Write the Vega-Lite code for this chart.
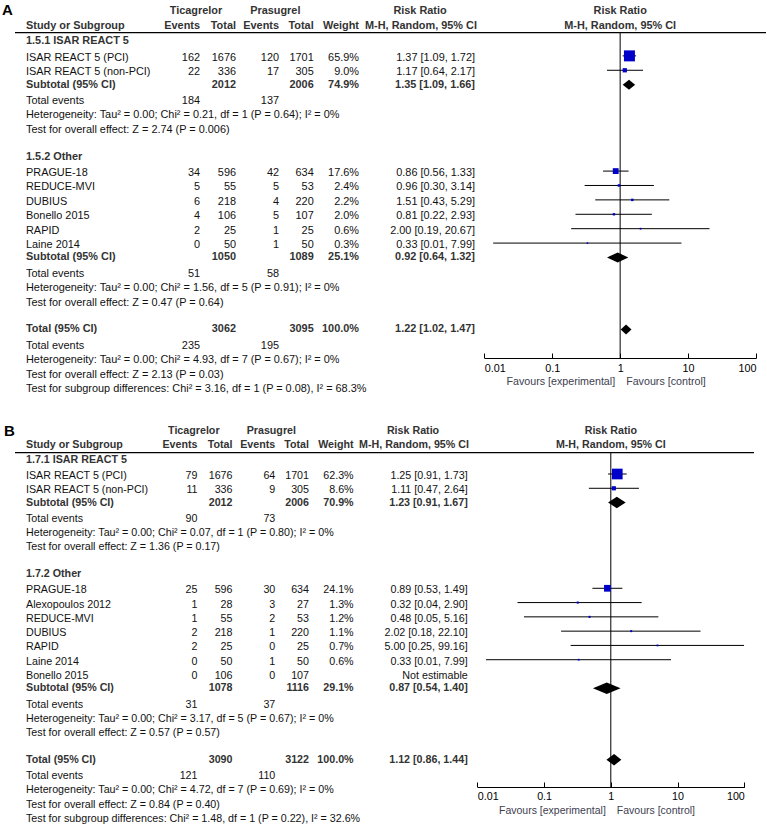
{
"$schema": "https://vega.github.io/schema/vega-lite/v6.json",
"padding": 0,
"spacing": 26,
"config": {"view": {"stroke": null}, "text": {"font": "Liberation Sans", "baseline": "middle"}},
"datasets": {
"A": [
{"row":0,"kind":"group","label":"1.5.1 ISAR REACT 5"},
{"row":1,"kind":"study","label":"ISAR REACT 5 (PCI)","te":162,"tt":1676,"pe":120,"pt":1701,"w":0.659,"est":1.37,"lo":1.09,"hi":1.72},
{"row":2,"kind":"study","label":"ISAR REACT 5 (non-PCI)","te":22,"tt":336,"pe":17,"pt":305,"w":0.09,"est":1.17,"lo":0.64,"hi":2.17},
{"row":3,"kind":"sub","label":"Subtotal (95% CI)","tt":2012,"pt":2006,"w":0.749,"est":1.35,"lo":1.09,"hi":1.66},
{"row":4,"kind":"ev","label":"Total events","te":184,"pe":137},
{"row":5,"kind":"note","label":"Heterogeneity: Tau² = 0.00; Chi² = 0.21, df = 1 (P = 0.64); I² = 0%"},
{"row":6,"kind":"note","label":"Test for overall effect: Z = 2.74 (P = 0.006)"},
{"row":8,"kind":"group","label":"1.5.2 Other"},
{"row":9,"kind":"study","label":"PRAGUE-18","te":34,"tt":596,"pe":42,"pt":634,"w":0.176,"est":0.86,"lo":0.56,"hi":1.33},
{"row":10,"kind":"study","label":"REDUCE-MVI","te":5,"tt":55,"pe":5,"pt":53,"w":0.024,"est":0.96,"lo":0.30,"hi":3.14},
{"row":11,"kind":"study","label":"DUBIUS","te":6,"tt":218,"pe":4,"pt":220,"w":0.022,"est":1.51,"lo":0.43,"hi":5.29},
{"row":12,"kind":"study","label":"Bonello 2015","te":4,"tt":106,"pe":5,"pt":107,"w":0.020,"est":0.81,"lo":0.22,"hi":2.93},
{"row":13,"kind":"study","label":"RAPID","te":2,"tt":25,"pe":1,"pt":25,"w":0.006,"est":2.00,"lo":0.19,"hi":20.67},
{"row":14,"kind":"study","label":"Laine 2014","te":0,"tt":50,"pe":1,"pt":50,"w":0.003,"est":0.33,"lo":0.0135,"hi":7.99},
{"row":15,"kind":"sub","label":"Subtotal (95% CI)","tt":1050,"pt":1089,"w":0.251,"est":0.92,"lo":0.64,"hi":1.32},
{"row":16,"kind":"ev","label":"Total events","te":51,"pe":58},
{"row":17,"kind":"note","label":"Heterogeneity: Tau² = 0.00; Chi² = 1.56, df = 5 (P = 0.91); I² = 0%"},
{"row":18,"kind":"note","label":"Test for overall effect: Z = 0.47 (P = 0.64)"},
{"row":20,"kind":"tot","label":"Total (95% CI)","tt":3062,"pt":3095,"w":1.0,"est":1.22,"lo":1.02,"hi":1.47},
{"row":21,"kind":"ev","label":"Total events","te":235,"pe":195},
{"row":22,"kind":"note","label":"Heterogeneity: Tau² = 0.00; Chi² = 4.93, df = 7 (P = 0.67); I² = 0%"},
{"row":23,"kind":"note","label":"Test for overall effect: Z = 2.13 (P = 0.03)"},
{"row":24,"kind":"note","label":"Test for subgroup differences: Chi² = 3.16, df = 1 (P = 0.08), I² = 68.3%"}
],
"B": [
{"row":0,"kind":"group","label":"1.7.1 ISAR REACT 5"},
{"row":1,"kind":"study","label":"ISAR REACT 5 (PCI)","te":79,"tt":1676,"pe":64,"pt":1701,"w":0.623,"est":1.25,"lo":0.91,"hi":1.73},
{"row":2,"kind":"study","label":"ISAR REACT 5 (non-PCI)","te":11,"tt":336,"pe":9,"pt":305,"w":0.086,"est":1.11,"lo":0.47,"hi":2.64},
{"row":3,"kind":"sub","label":"Subtotal (95% CI)","tt":2012,"pt":2006,"w":0.709,"est":1.23,"lo":0.91,"hi":1.67},
{"row":4,"kind":"ev","label":"Total events","te":90,"pe":73},
{"row":5,"kind":"note","label":"Heterogeneity: Tau² = 0.00; Chi² = 0.07, df = 1 (P = 0.80); I² = 0%"},
{"row":6,"kind":"note","label":"Test for overall effect: Z = 1.36 (P = 0.17)"},
{"row":8,"kind":"group","label":"1.7.2 Other"},
{"row":9,"kind":"study","label":"PRAGUE-18","te":25,"tt":596,"pe":30,"pt":634,"w":0.241,"est":0.89,"lo":0.53,"hi":1.49},
{"row":10,"kind":"study","label":"Alexopoulos 2012","te":1,"tt":28,"pe":3,"pt":27,"w":0.013,"est":0.32,"lo":0.04,"hi":2.90},
{"row":11,"kind":"study","label":"REDUCE-MVI","te":1,"tt":55,"pe":2,"pt":53,"w":0.012,"est":0.48,"lo":0.05,"hi":5.16},
{"row":12,"kind":"study","label":"DUBIUS","te":2,"tt":218,"pe":1,"pt":220,"w":0.011,"est":2.02,"lo":0.18,"hi":22.10},
{"row":13,"kind":"study","label":"RAPID","te":2,"tt":25,"pe":0,"pt":25,"w":0.007,"est":5.00,"lo":0.25,"hi":99.16},
{"row":14,"kind":"study","label":"Laine 2014","te":0,"tt":50,"pe":1,"pt":50,"w":0.006,"est":0.33,"lo":0.0135,"hi":7.99},
{"row":15,"kind":"study","label":"Bonello 2015","te":0,"tt":106,"pe":0,"pt":107},
{"row":16,"kind":"sub","label":"Subtotal (95% CI)","tt":1078,"pt":1116,"w":0.291,"est":0.87,"lo":0.54,"hi":1.40},
{"row":17,"kind":"ev","label":"Total events","te":31,"pe":37},
{"row":18,"kind":"note","label":"Heterogeneity: Tau² = 0.00; Chi² = 3.17, df = 5 (P = 0.67); I² = 0%"},
{"row":19,"kind":"note","label":"Test for overall effect: Z = 0.57 (P = 0.57)"},
{"row":21,"kind":"tot","label":"Total (95% CI)","tt":3090,"pt":3122,"w":1.0,"est":1.12,"lo":0.86,"hi":1.44},
{"row":22,"kind":"ev","label":"Total events","te":121,"pe":110},
{"row":23,"kind":"note","label":"Heterogeneity: Tau² = 0.00; Chi² = 4.72, df = 7 (P = 0.69); I² = 0%"},
{"row":24,"kind":"note","label":"Test for overall effect: Z = 0.84 (P = 0.40)"},
{"row":25,"kind":"note","label":"Test for subgroup differences: Chi² = 1.48, df = 1 (P = 0.22), I² = 32.6%"}
]
},
"vconcat": [
{
"width": 767, "height": 358,
"data": {"name": "A"},
"transform": [
{"calculate": "datum.est == null ? 'Not estimable' : format(datum.est,'.2f') + ' [' + format(datum.lo,'.2f') + ', ' + format(datum.hi,'.2f') + ']'", "as": "rr"},
{"calculate": "datum.w == null ? '' : format(datum.w,'.1%')", "as": "wl"}
],
"layer": [
{"data": {"values": [{}]}, "mark": {"type": "rule", "color": "#000", "strokeWidth": 1.2},
 "encoding": {"x": {"value": 15}, "x2": {"value": 766}, "y": {"datum": -0.62, "type": "quantitative", "scale": {"domain": [-2.88, 21.98], "reverse": true, "zero": false, "nice": false}, "axis": null}}},
{"data": {"values": [{}]}, "mark": {"type": "rule", "color": "#000", "strokeWidth": 1},
 "encoding": {"x": {"datum": 1, "type": "quantitative", "scale": {"type": "log", "domain": [0.01, 100], "range": [484.3, 756], "nice": false},
   "axis": {"values": [0.01, 0.1, 1, 10, 100], "format": "~g", "labelFlush": true, "grid": false, "title": null, "domainColor": "#000", "tickColor": "#000", "labelColor": "#000", "labelFont": "Liberation Sans", "labelFontSize": 10.8, "tickSize": -5, "labelPadding": 9.5}},
  "y": {"datum": -0.62, "type": "quantitative", "scale": {"domain": [-2.88, 21.98], "reverse": true, "zero": false, "nice": false}, "axis": null}, "y2": {"datum": 21.98}}},
{"transform": [{"filter": "datum.kind == 'study' && datum.est != null"}], "mark": {"type": "rule", "color": "#000", "strokeWidth": 1},
 "encoding": {"x": {"field": "lo", "type": "quantitative", "scale": {"type": "log", "domain": [0.01, 100], "range": [484.3, 756], "nice": false}}, "x2": {"field": "hi"},
  "y": {"field": "row", "type": "quantitative", "scale": {"domain": [-2.88, 21.98], "reverse": true, "zero": false, "nice": false}, "axis": null}}},
{"transform": [{"filter": "datum.kind == 'study' && datum.w != null"}], "mark": {"type": "point", "shape": "square", "filled": true, "opacity": 1, "color": "#0000c8", "strokeWidth": 0},
 "encoding": {"x": {"field": "est", "type": "quantitative", "scale": {"type": "log", "domain": [0.01, 100], "range": [484.3, 756], "nice": false}},
  "y": {"field": "row", "type": "quantitative", "scale": {"domain": [-2.88, 21.98], "reverse": true, "zero": false, "nice": false}, "axis": null},
  "size": {"field": "w", "type": "quantitative", "scale": {"domain": [0, 0.66], "range": [2, 121]}, "legend": null}}},
{"transform": [{"filter": "datum.kind == 'sub' || datum.kind == 'tot'"}, {"fold": ["lo", "est", "hi"], "as": ["k", "v"]},
   {"calculate": "datum.k == 'est' ? 0.35 : 0", "as": "h"}, {"calculate": "datum.row - datum.h", "as": "ya"}, {"calculate": "datum.row + datum.h", "as": "yb"}],
 "mark": {"type": "area", "color": "#000", "orient": "vertical", "opacity": 1},
 "encoding": {"x": {"field": "v", "type": "quantitative", "scale": {"type": "log", "domain": [0.01, 100], "range": [484.3, 756], "nice": false}},
  "y": {"field": "ya", "type": "quantitative", "stack": null, "scale": {"domain": [-2.88, 21.98], "reverse": true, "zero": false, "nice": false}, "axis": null},
  "y2": {"field": "yb"}, "detail": {"field": "row", "type": "nominal"}}},
{"transform": [{"filter": "datum.kind == 'study' || datum.kind == 'ev' || datum.kind == 'note'"}], "mark": {"type": "text", "align": "left", "fontSize": 10.9, "color": "#111", "dy": 2},
 "encoding": {"x": {"value": 26}, "y": {"field": "row", "type": "quantitative", "scale": {"domain": [-2.88, 21.98], "reverse": true, "zero": false, "nice": false}, "axis": null}, "text": {"field": "label"}}},
{"transform": [{"filter": "datum.kind == 'group' || datum.kind == 'sub' || datum.kind == 'tot'"}], "mark": {"type": "text", "align": "left", "fontSize": 10.9, "fontWeight": "bold", "color": "#333"},
 "encoding": {"x": {"value": 26}, "y": {"field": "row", "type": "quantitative", "scale": {"domain": [-2.88, 21.98], "reverse": true, "zero": false, "nice": false}, "axis": null}, "text": {"field": "label"}}},
{"transform": [{"filter": "datum.kind == 'study' || datum.kind == 'ev'"}], "mark": {"type": "text", "align": "right", "fontSize": 10.9, "color": "#111", "dy": 2},
 "encoding": {"x": {"value": 200}, "y": {"field": "row", "type": "quantitative", "scale": {"domain": [-2.88, 21.98], "reverse": true, "zero": false, "nice": false}, "axis": null}, "text": {"field": "te", "type": "nominal"}}},
{"transform": [{"filter": "datum.kind == 'study'"}], "mark": {"type": "text", "align": "right", "fontSize": 10.9, "color": "#111", "dy": 2},
 "encoding": {"x": {"value": 236}, "y": {"field": "row", "type": "quantitative", "scale": {"domain": [-2.88, 21.98], "reverse": true, "zero": false, "nice": false}, "axis": null}, "text": {"field": "tt", "type": "nominal"}}},
{"transform": [{"filter": "datum.kind == 'study' || datum.kind == 'ev'"}], "mark": {"type": "text", "align": "right", "fontSize": 10.9, "color": "#111", "dy": 2},
 "encoding": {"x": {"value": 279}, "y": {"field": "row", "type": "quantitative", "scale": {"domain": [-2.88, 21.98], "reverse": true, "zero": false, "nice": false}, "axis": null}, "text": {"field": "pe", "type": "nominal"}}},
{"transform": [{"filter": "datum.kind == 'study'"}], "mark": {"type": "text", "align": "right", "fontSize": 10.9, "color": "#111", "dy": 2},
 "encoding": {"x": {"value": 313.7}, "y": {"field": "row", "type": "quantitative", "scale": {"domain": [-2.88, 21.98], "reverse": true, "zero": false, "nice": false}, "axis": null}, "text": {"field": "pt", "type": "nominal"}}},
{"transform": [{"filter": "datum.kind == 'study'"}], "mark": {"type": "text", "align": "right", "fontSize": 10.9, "color": "#111", "dy": 2},
 "encoding": {"x": {"value": 359}, "y": {"field": "row", "type": "quantitative", "scale": {"domain": [-2.88, 21.98], "reverse": true, "zero": false, "nice": false}, "axis": null}, "text": {"field": "wl", "type": "nominal"}}},
{"transform": [{"filter": "datum.kind == 'study'"}], "mark": {"type": "text", "align": "right", "fontSize": 10.9, "color": "#111", "dy": 2},
 "encoding": {"x": {"value": 475}, "y": {"field": "row", "type": "quantitative", "scale": {"domain": [-2.88, 21.98], "reverse": true, "zero": false, "nice": false}, "axis": null}, "text": {"field": "rr", "type": "nominal"}}},
{"transform": [{"filter": "datum.kind == 'sub' || datum.kind == 'tot'"}], "mark": {"type": "text", "align": "right", "fontSize": 10.9, "fontWeight": "bold", "color": "#333"},
 "encoding": {"x": {"value": 236}, "y": {"field": "row", "type": "quantitative", "scale": {"domain": [-2.88, 21.98], "reverse": true, "zero": false, "nice": false}, "axis": null}, "text": {"field": "tt", "type": "nominal"}}},
{"transform": [{"filter": "datum.kind == 'sub' || datum.kind == 'tot'"}], "mark": {"type": "text", "align": "right", "fontSize": 10.9, "fontWeight": "bold", "color": "#333"},
 "encoding": {"x": {"value": 313.7}, "y": {"field": "row", "type": "quantitative", "scale": {"domain": [-2.88, 21.98], "reverse": true, "zero": false, "nice": false}, "axis": null}, "text": {"field": "pt", "type": "nominal"}}},
{"transform": [{"filter": "datum.kind == 'sub' || datum.kind == 'tot'"}], "mark": {"type": "text", "align": "right", "fontSize": 10.9, "fontWeight": "bold", "color": "#333"},
 "encoding": {"x": {"value": 359}, "y": {"field": "row", "type": "quantitative", "scale": {"domain": [-2.88, 21.98], "reverse": true, "zero": false, "nice": false}, "axis": null}, "text": {"field": "wl", "type": "nominal"}}},
{"transform": [{"filter": "datum.kind == 'sub' || datum.kind == 'tot'"}], "mark": {"type": "text", "align": "right", "fontSize": 10.9, "fontWeight": "bold", "color": "#333"},
 "encoding": {"x": {"value": 475}, "y": {"field": "row", "type": "quantitative", "scale": {"domain": [-2.88, 21.98], "reverse": true, "zero": false, "nice": false}, "axis": null}, "text": {"field": "rr", "type": "nominal"}}},
{"data": {"values": [{}]}, "mark": {"type": "text", "align": "left", "fontSize": 15, "fontWeight": "bold", "color": "#000"},
 "encoding": {"x": {"value": 2}, "y": {"datum": -2.2, "type": "quantitative", "scale": {"domain": [-2.88, 21.98], "reverse": true, "zero": false, "nice": false}, "axis": null}, "text": {"value": "A"}}},
{"data": {"values": [{}]}, "mark": {"type": "text", "align": "center", "fontSize": 10.9, "fontWeight": "bold", "color": "#333"},
 "encoding": {"x": {"value": 196}, "y": {"datum": -2.1, "type": "quantitative", "scale": {"domain": [-2.88, 21.98], "reverse": true, "zero": false, "nice": false}, "axis": null}, "text": {"value": "Ticagrelor"}}},
{"data": {"values": [{}]}, "mark": {"type": "text", "align": "center", "fontSize": 10.9, "fontWeight": "bold", "color": "#333"},
 "encoding": {"x": {"value": 275.3}, "y": {"datum": -2.1, "type": "quantitative", "scale": {"domain": [-2.88, 21.98], "reverse": true, "zero": false, "nice": false}, "axis": null}, "text": {"value": "Prasugrel"}}},
{"data": {"values": [{}]}, "mark": {"type": "text", "align": "center", "fontSize": 10.9, "fontWeight": "bold", "color": "#333"},
 "encoding": {"x": {"value": 420}, "y": {"datum": -2.1, "type": "quantitative", "scale": {"domain": [-2.88, 21.98], "reverse": true, "zero": false, "nice": false}, "axis": null}, "text": {"value": "Risk Ratio"}}},
{"data": {"values": [{}]}, "mark": {"type": "text", "align": "center", "fontSize": 10.9, "fontWeight": "bold", "color": "#333"},
 "encoding": {"x": {"datum": 1, "type": "quantitative", "scale": {"type": "log", "domain": [0.01, 100], "range": [484.3, 756], "nice": false}}, "y": {"datum": -2.1, "type": "quantitative", "scale": {"domain": [-2.88, 21.98], "reverse": true, "zero": false, "nice": false}, "axis": null}, "text": {"value": "Risk Ratio"}}},
{"data": {"values": [{}]}, "mark": {"type": "text", "align": "left", "fontSize": 10.9, "fontWeight": "bold", "color": "#333"},
 "encoding": {"x": {"value": 26}, "y": {"datum": -1.1, "type": "quantitative", "scale": {"domain": [-2.88, 21.98], "reverse": true, "zero": false, "nice": false}, "axis": null}, "text": {"value": "Study or Subgroup"}}},
{"data": {"values": [{}]}, "mark": {"type": "text", "align": "right", "fontSize": 10.9, "fontWeight": "bold", "color": "#333"},
 "encoding": {"x": {"value": 200}, "y": {"datum": -1.1, "type": "quantitative", "scale": {"domain": [-2.88, 21.98], "reverse": true, "zero": false, "nice": false}, "axis": null}, "text": {"value": "Events"}}},
{"data": {"values": [{}]}, "mark": {"type": "text", "align": "right", "fontSize": 10.9, "fontWeight": "bold", "color": "#333"},
 "encoding": {"x": {"value": 236}, "y": {"datum": -1.1, "type": "quantitative", "scale": {"domain": [-2.88, 21.98], "reverse": true, "zero": false, "nice": false}, "axis": null}, "text": {"value": "Total"}}},
{"data": {"values": [{}]}, "mark": {"type": "text", "align": "right", "fontSize": 10.9, "fontWeight": "bold", "color": "#333"},
 "encoding": {"x": {"value": 279}, "y": {"datum": -1.1, "type": "quantitative", "scale": {"domain": [-2.88, 21.98], "reverse": true, "zero": false, "nice": false}, "axis": null}, "text": {"value": "Events"}}},
{"data": {"values": [{}]}, "mark": {"type": "text", "align": "right", "fontSize": 10.9, "fontWeight": "bold", "color": "#333"},
 "encoding": {"x": {"value": 313.7}, "y": {"datum": -1.1, "type": "quantitative", "scale": {"domain": [-2.88, 21.98], "reverse": true, "zero": false, "nice": false}, "axis": null}, "text": {"value": "Total"}}},
{"data": {"values": [{}]}, "mark": {"type": "text", "align": "right", "fontSize": 10.9, "fontWeight": "bold", "color": "#333"},
 "encoding": {"x": {"value": 359}, "y": {"datum": -1.1, "type": "quantitative", "scale": {"domain": [-2.88, 21.98], "reverse": true, "zero": false, "nice": false}, "axis": null}, "text": {"value": "Weight"}}},
{"data": {"values": [{}]}, "mark": {"type": "text", "align": "center", "fontSize": 10.9, "fontWeight": "bold", "color": "#333"},
 "encoding": {"x": {"value": 421}, "y": {"datum": -1.1, "type": "quantitative", "scale": {"domain": [-2.88, 21.98], "reverse": true, "zero": false, "nice": false}, "axis": null}, "text": {"value": "M-H, Random, 95% CI"}}},
{"data": {"values": [{}]}, "mark": {"type": "text", "align": "center", "fontSize": 10.9, "fontWeight": "bold", "color": "#333"},
 "encoding": {"x": {"datum": 1, "type": "quantitative", "scale": {"type": "log", "domain": [0.01, 100], "range": [484.3, 756], "nice": false}}, "y": {"datum": -1.1, "type": "quantitative", "scale": {"domain": [-2.88, 21.98], "reverse": true, "zero": false, "nice": false}, "axis": null}, "text": {"value": "M-H, Random, 95% CI"}}},
{"data": {"values": [{}]}, "mark": {"type": "text", "align": "right", "dx": -5, "fontSize": 10.7, "color": "#404050"},
 "encoding": {"x": {"datum": 1, "type": "quantitative", "scale": {"type": "log", "domain": [0.01, 100], "range": [484.3, 756], "nice": false}}, "y": {"datum": 23.66, "type": "quantitative", "scale": {"domain": [-2.88, 21.98], "reverse": true, "zero": false, "nice": false}, "axis": null}, "text": {"value": "Favours [experimental]"}}},
{"data": {"values": [{}]}, "mark": {"type": "text", "align": "left", "dx": 6, "fontSize": 10.7, "color": "#404050"},
 "encoding": {"x": {"datum": 1, "type": "quantitative", "scale": {"type": "log", "domain": [0.01, 100], "range": [484.3, 756], "nice": false}}, "y": {"datum": 23.66, "type": "quantitative", "scale": {"domain": [-2.88, 21.98], "reverse": true, "zero": false, "nice": false}, "axis": null}, "text": {"value": "Favours [control]"}}}
]
},
{
"width": 767, "height": 367,
"data": {"name": "B"},
"transform": [
{"calculate": "datum.est == null ? 'Not estimable' : format(datum.est,'.2f') + ' [' + format(datum.lo,'.2f') + ', ' + format(datum.hi,'.2f') + ']'", "as": "rr"},
{"calculate": "datum.w == null ? '' : format(datum.w,'.1%')", "as": "wl"}
],
"layer": [
{"data": {"values": [{}]}, "mark": {"type": "rule", "color": "#000", "strokeWidth": 1.2},
 "encoding": {"x": {"value": 15}, "x2": {"value": 754}, "y": {"datum": -0.5, "type": "quantitative", "scale": {"domain": [-2.78, 22.91], "reverse": true, "zero": false, "nice": false}, "axis": null}}},
{"data": {"values": [{}]}, "mark": {"type": "rule", "color": "#000", "strokeWidth": 1},
 "encoding": {"x": {"datum": 1, "type": "quantitative", "scale": {"type": "log", "domain": [0.01, 100], "range": [477.3, 744.3], "nice": false},
   "axis": {"values": [0.01, 0.1, 1, 10, 100], "format": "~g", "labelFlush": true, "grid": false, "title": null, "domainColor": "#000", "tickColor": "#000", "labelColor": "#000", "labelFont": "Liberation Sans", "labelFontSize": 10.7, "tickSize": -5, "labelPadding": 9.5}},
  "y": {"datum": -0.5, "type": "quantitative", "scale": {"domain": [-2.78, 22.91], "reverse": true, "zero": false, "nice": false}, "axis": null}, "y2": {"datum": 22.91}}},
{"transform": [{"filter": "datum.kind == 'study' && datum.est != null"}], "mark": {"type": "rule", "color": "#000", "strokeWidth": 1},
 "encoding": {"x": {"field": "lo", "type": "quantitative", "scale": {"type": "log", "domain": [0.01, 100], "range": [477.3, 744.3], "nice": false}}, "x2": {"field": "hi"},
  "y": {"field": "row", "type": "quantitative", "scale": {"domain": [-2.78, 22.91], "reverse": true, "zero": false, "nice": false}, "axis": null}}},
{"transform": [{"filter": "datum.kind == 'study' && datum.w != null"}], "mark": {"type": "point", "shape": "square", "filled": true, "opacity": 1, "color": "#0000c8", "strokeWidth": 0},
 "encoding": {"x": {"field": "est", "type": "quantitative", "scale": {"type": "log", "domain": [0.01, 100], "range": [477.3, 744.3], "nice": false}},
  "y": {"field": "row", "type": "quantitative", "scale": {"domain": [-2.78, 22.91], "reverse": true, "zero": false, "nice": false}, "axis": null},
  "size": {"field": "w", "type": "quantitative", "scale": {"domain": [0, 0.66], "range": [2, 121]}, "legend": null}}},
{"transform": [{"filter": "datum.kind == 'sub' || datum.kind == 'tot'"}, {"fold": ["lo", "est", "hi"], "as": ["k", "v"]},
   {"calculate": "datum.k == 'est' ? 0.4 : 0", "as": "h"}, {"calculate": "datum.row - datum.h", "as": "ya"}, {"calculate": "datum.row + datum.h", "as": "yb"}],
 "mark": {"type": "area", "color": "#000", "orient": "vertical", "opacity": 1},
 "encoding": {"x": {"field": "v", "type": "quantitative", "scale": {"type": "log", "domain": [0.01, 100], "range": [477.3, 744.3], "nice": false}},
  "y": {"field": "ya", "type": "quantitative", "stack": null, "scale": {"domain": [-2.78, 22.91], "reverse": true, "zero": false, "nice": false}, "axis": null},
  "y2": {"field": "yb"}, "detail": {"field": "row", "type": "nominal"}}},
{"transform": [{"filter": "datum.kind == 'study' || datum.kind == 'ev' || datum.kind == 'note'"}], "mark": {"type": "text", "align": "left", "fontSize": 10.7, "color": "#111", "dy": 2},
 "encoding": {"x": {"value": 26}, "y": {"field": "row", "type": "quantitative", "scale": {"domain": [-2.78, 22.91], "reverse": true, "zero": false, "nice": false}, "axis": null}, "text": {"field": "label"}}},
{"transform": [{"filter": "datum.kind == 'group' || datum.kind == 'sub' || datum.kind == 'tot'"}], "mark": {"type": "text", "align": "left", "fontSize": 10.7, "fontWeight": "bold", "color": "#333"},
 "encoding": {"x": {"value": 26}, "y": {"field": "row", "type": "quantitative", "scale": {"domain": [-2.78, 22.91], "reverse": true, "zero": false, "nice": false}, "axis": null}, "text": {"field": "label"}}},
{"transform": [{"filter": "datum.kind == 'study' || datum.kind == 'ev'"}], "mark": {"type": "text", "align": "right", "fontSize": 10.7, "color": "#111", "dy": 2},
 "encoding": {"x": {"value": 197.5}, "y": {"field": "row", "type": "quantitative", "scale": {"domain": [-2.78, 22.91], "reverse": true, "zero": false, "nice": false}, "axis": null}, "text": {"field": "te", "type": "nominal"}}},
{"transform": [{"filter": "datum.kind == 'study'"}], "mark": {"type": "text", "align": "right", "fontSize": 10.7, "color": "#111", "dy": 2},
 "encoding": {"x": {"value": 232.5}, "y": {"field": "row", "type": "quantitative", "scale": {"domain": [-2.78, 22.91], "reverse": true, "zero": false, "nice": false}, "axis": null}, "text": {"field": "tt", "type": "nominal"}}},
{"transform": [{"filter": "datum.kind == 'study' || datum.kind == 'ev'"}], "mark": {"type": "text", "align": "right", "fontSize": 10.7, "color": "#111", "dy": 2},
 "encoding": {"x": {"value": 275.3}, "y": {"field": "row", "type": "quantitative", "scale": {"domain": [-2.78, 22.91], "reverse": true, "zero": false, "nice": false}, "axis": null}, "text": {"field": "pe", "type": "nominal"}}},
{"transform": [{"filter": "datum.kind == 'study'"}], "mark": {"type": "text", "align": "right", "fontSize": 10.7, "color": "#111", "dy": 2},
 "encoding": {"x": {"value": 309}, "y": {"field": "row", "type": "quantitative", "scale": {"domain": [-2.78, 22.91], "reverse": true, "zero": false, "nice": false}, "axis": null}, "text": {"field": "pt", "type": "nominal"}}},
{"transform": [{"filter": "datum.kind == 'study'"}], "mark": {"type": "text", "align": "right", "fontSize": 10.7, "color": "#111", "dy": 2},
 "encoding": {"x": {"value": 353.6}, "y": {"field": "row", "type": "quantitative", "scale": {"domain": [-2.78, 22.91], "reverse": true, "zero": false, "nice": false}, "axis": null}, "text": {"field": "wl", "type": "nominal"}}},
{"transform": [{"filter": "datum.kind == 'study'"}], "mark": {"type": "text", "align": "right", "fontSize": 10.7, "color": "#111", "dy": 2},
 "encoding": {"x": {"value": 467.7}, "y": {"field": "row", "type": "quantitative", "scale": {"domain": [-2.78, 22.91], "reverse": true, "zero": false, "nice": false}, "axis": null}, "text": {"field": "rr", "type": "nominal"}}},
{"transform": [{"filter": "datum.kind == 'sub' || datum.kind == 'tot'"}], "mark": {"type": "text", "align": "right", "fontSize": 10.7, "fontWeight": "bold", "color": "#333"},
 "encoding": {"x": {"value": 232.5}, "y": {"field": "row", "type": "quantitative", "scale": {"domain": [-2.78, 22.91], "reverse": true, "zero": false, "nice": false}, "axis": null}, "text": {"field": "tt", "type": "nominal"}}},
{"transform": [{"filter": "datum.kind == 'sub' || datum.kind == 'tot'"}], "mark": {"type": "text", "align": "right", "fontSize": 10.7, "fontWeight": "bold", "color": "#333"},
 "encoding": {"x": {"value": 309}, "y": {"field": "row", "type": "quantitative", "scale": {"domain": [-2.78, 22.91], "reverse": true, "zero": false, "nice": false}, "axis": null}, "text": {"field": "pt", "type": "nominal"}}},
{"transform": [{"filter": "datum.kind == 'sub' || datum.kind == 'tot'"}], "mark": {"type": "text", "align": "right", "fontSize": 10.7, "fontWeight": "bold", "color": "#333"},
 "encoding": {"x": {"value": 353.6}, "y": {"field": "row", "type": "quantitative", "scale": {"domain": [-2.78, 22.91], "reverse": true, "zero": false, "nice": false}, "axis": null}, "text": {"field": "wl", "type": "nominal"}}},
{"transform": [{"filter": "datum.kind == 'sub' || datum.kind == 'tot'"}], "mark": {"type": "text", "align": "right", "fontSize": 10.7, "fontWeight": "bold", "color": "#333"},
 "encoding": {"x": {"value": 467.7}, "y": {"field": "row", "type": "quantitative", "scale": {"domain": [-2.78, 22.91], "reverse": true, "zero": false, "nice": false}, "axis": null}, "text": {"field": "rr", "type": "nominal"}}},
{"data": {"values": [{}]}, "mark": {"type": "text", "align": "left", "fontSize": 15, "fontWeight": "bold", "color": "#000"},
 "encoding": {"x": {"value": 4}, "y": {"datum": -2, "type": "quantitative", "scale": {"domain": [-2.78, 22.91], "reverse": true, "zero": false, "nice": false}, "axis": null}, "text": {"value": "B"}}},
{"data": {"values": [{}]}, "mark": {"type": "text", "align": "center", "fontSize": 10.7, "fontWeight": "bold", "color": "#333"},
 "encoding": {"x": {"value": 193.8}, "y": {"datum": -2, "type": "quantitative", "scale": {"domain": [-2.78, 22.91], "reverse": true, "zero": false, "nice": false}, "axis": null}, "text": {"value": "Ticagrelor"}}},
{"data": {"values": [{}]}, "mark": {"type": "text", "align": "center", "fontSize": 10.7, "fontWeight": "bold", "color": "#333"},
 "encoding": {"x": {"value": 271.3}, "y": {"datum": -2, "type": "quantitative", "scale": {"domain": [-2.78, 22.91], "reverse": true, "zero": false, "nice": false}, "axis": null}, "text": {"value": "Prasugrel"}}},
{"data": {"values": [{}]}, "mark": {"type": "text", "align": "center", "fontSize": 10.7, "fontWeight": "bold", "color": "#333"},
 "encoding": {"x": {"value": 413}, "y": {"datum": -2, "type": "quantitative", "scale": {"domain": [-2.78, 22.91], "reverse": true, "zero": false, "nice": false}, "axis": null}, "text": {"value": "Risk Ratio"}}},
{"data": {"values": [{}]}, "mark": {"type": "text", "align": "center", "fontSize": 10.7, "fontWeight": "bold", "color": "#333"},
 "encoding": {"x": {"datum": 1, "type": "quantitative", "scale": {"type": "log", "domain": [0.01, 100], "range": [477.3, 744.3], "nice": false}}, "y": {"datum": -2, "type": "quantitative", "scale": {"domain": [-2.78, 22.91], "reverse": true, "zero": false, "nice": false}, "axis": null}, "text": {"value": "Risk Ratio"}}},
{"data": {"values": [{}]}, "mark": {"type": "text", "align": "left", "fontSize": 10.7, "fontWeight": "bold", "color": "#333"},
 "encoding": {"x": {"value": 26}, "y": {"datum": -1, "type": "quantitative", "scale": {"domain": [-2.78, 22.91], "reverse": true, "zero": false, "nice": false}, "axis": null}, "text": {"value": "Study or Subgroup"}}},
{"data": {"values": [{}]}, "mark": {"type": "text", "align": "right", "fontSize": 10.7, "fontWeight": "bold", "color": "#333"},
 "encoding": {"x": {"value": 197.5}, "y": {"datum": -1, "type": "quantitative", "scale": {"domain": [-2.78, 22.91], "reverse": true, "zero": false, "nice": false}, "axis": null}, "text": {"value": "Events"}}},
{"data": {"values": [{}]}, "mark": {"type": "text", "align": "right", "fontSize": 10.7, "fontWeight": "bold", "color": "#333"},
 "encoding": {"x": {"value": 232.5}, "y": {"datum": -1, "type": "quantitative", "scale": {"domain": [-2.78, 22.91], "reverse": true, "zero": false, "nice": false}, "axis": null}, "text": {"value": "Total"}}},
{"data": {"values": [{}]}, "mark": {"type": "text", "align": "right", "fontSize": 10.7, "fontWeight": "bold", "color": "#333"},
 "encoding": {"x": {"value": 275.3}, "y": {"datum": -1, "type": "quantitative", "scale": {"domain": [-2.78, 22.91], "reverse": true, "zero": false, "nice": false}, "axis": null}, "text": {"value": "Events"}}},
{"data": {"values": [{}]}, "mark": {"type": "text", "align": "right", "fontSize": 10.7, "fontWeight": "bold", "color": "#333"},
 "encoding": {"x": {"value": 309}, "y": {"datum": -1, "type": "quantitative", "scale": {"domain": [-2.78, 22.91], "reverse": true, "zero": false, "nice": false}, "axis": null}, "text": {"value": "Total"}}},
{"data": {"values": [{}]}, "mark": {"type": "text", "align": "right", "fontSize": 10.7, "fontWeight": "bold", "color": "#333"},
 "encoding": {"x": {"value": 353.6}, "y": {"datum": -1, "type": "quantitative", "scale": {"domain": [-2.78, 22.91], "reverse": true, "zero": false, "nice": false}, "axis": null}, "text": {"value": "Weight"}}},
{"data": {"values": [{}]}, "mark": {"type": "text", "align": "center", "fontSize": 10.7, "fontWeight": "bold", "color": "#333"},
 "encoding": {"x": {"value": 414}, "y": {"datum": -1, "type": "quantitative", "scale": {"domain": [-2.78, 22.91], "reverse": true, "zero": false, "nice": false}, "axis": null}, "text": {"value": "M-H, Random, 95% CI"}}},
{"data": {"values": [{}]}, "mark": {"type": "text", "align": "center", "fontSize": 10.7, "fontWeight": "bold", "color": "#333"},
 "encoding": {"x": {"datum": 1, "type": "quantitative", "scale": {"type": "log", "domain": [0.01, 100], "range": [477.3, 744.3], "nice": false}}, "y": {"datum": -1, "type": "quantitative", "scale": {"domain": [-2.78, 22.91], "reverse": true, "zero": false, "nice": false}, "axis": null}, "text": {"value": "M-H, Random, 95% CI"}}},
{"data": {"values": [{}]}, "mark": {"type": "text", "align": "right", "dx": -5, "fontSize": 10.5, "color": "#404050"},
 "encoding": {"x": {"datum": 1, "type": "quantitative", "scale": {"type": "log", "domain": [0.01, 100], "range": [477.3, 744.3], "nice": false}}, "y": {"datum": 24.58, "type": "quantitative", "scale": {"domain": [-2.78, 22.91], "reverse": true, "zero": false, "nice": false}, "axis": null}, "text": {"value": "Favours [experimental]"}}},
{"data": {"values": [{}]}, "mark": {"type": "text", "align": "left", "dx": 6, "fontSize": 10.5, "color": "#404050"},
 "encoding": {"x": {"datum": 1, "type": "quantitative", "scale": {"type": "log", "domain": [0.01, 100], "range": [477.3, 744.3], "nice": false}}, "y": {"datum": 24.58, "type": "quantitative", "scale": {"domain": [-2.78, 22.91], "reverse": true, "zero": false, "nice": false}, "axis": null}, "text": {"value": "Favours [control]"}}}
]
}
]
}
